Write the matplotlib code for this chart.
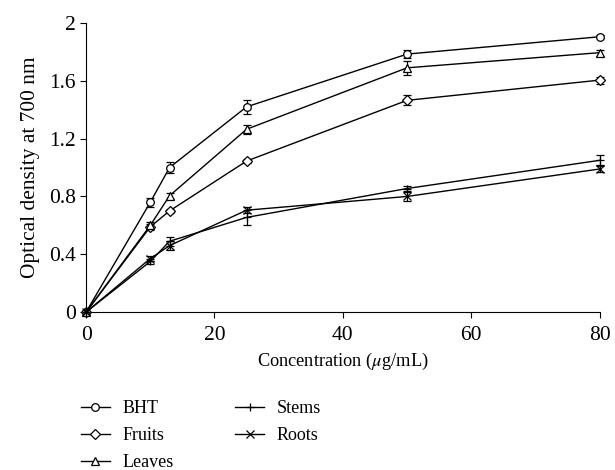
import numpy as np
import matplotlib.pyplot as plt
from matplotlib.lines import Line2D

plt.rcParams['font.family'] = 'Liberation Serif'
plt.rcParams['mathtext.fontset'] = 'stix'

# concentrations (ug/mL)
conc = [0, 10, 13, 25, 50, 80]

# optical density at 700 nm
bht = [0, 0.76, 1.00, 1.42, 1.785, 1.905]
fruits = [0, 0.59, 0.70, 1.045, 1.465, 1.605]
leaves = [0, 0.60, 0.805, 1.265, 1.69, 1.795]
stems = [0, 0.35, 0.49, 0.655, 0.855, 1.05]
roots = [0, 0.37, 0.46, 0.705, 0.80, 0.99]

# error bars
bht_err = [0, 0.03, 0.035, 0.05, 0.03, 0.01]
fruits_err = [0, 0.02, 0.015, 0.015, 0.035, 0.025]
leaves_err = [0, 0.02, 0.02, 0.03, 0.05, 0.02]
stems_err = [0, 0.02, 0.03, 0.05, 0.02, 0.035]
roots_err = [0, 0.02, 0.03, 0.02, 0.03, 0.02]

series = [
    ("BHT", bht, bht_err, "o"),
    ("Fruits", fruits, fruits_err, "D"),
    ("Leaves", leaves, leaves_err, "^"),
    ("Stems", stems, stems_err, "+"),
    ("Roots", roots, roots_err, "x"),
]

fig = plt.figure(figsize=(6.15, 4.7), dpi=100)
ax = fig.add_axes([0.14, 0.336, 0.835, 0.615])

handles = []
for name, vals, err, mk in series:
    ms = 5.5 if mk in "o^" else (5 if mk == "D" else 6)
    ax.errorbar(conc, vals, yerr=err, color="black", lw=1.0,
                marker=mk, ms=ms, mfc="white", mec="black", mew=0.9,
                capsize=3, elinewidth=0.9, capthick=0.9, clip_on=False,
                zorder=3)
    handles.append(Line2D([], [], color="black", lw=1.0, marker=mk, ms=ms,
                          mfc="white", mec="black", mew=0.9, label=name))

ax.set_xlim(0, 80)
ax.set_ylim(0, 2)
ax.set_xticks([0, 20, 40, 60, 80])
ax.set_yticks([0, 0.4, 0.8, 1.2, 1.6, 2])
ax.set_yticklabels(["0", "0.4", "0.8", "1.2", "1.6", "2"])
ax.spines["top"].set_visible(False)
ax.spines["right"].set_visible(False)
ax.tick_params(labelsize=15.5, direction="out", length=4, width=0.8)
ax.tick_params(axis="x", pad=6)
ax.set_xlabel(r"Concentration ($\mu$g/mL)", fontsize=13.2, labelpad=4)
ax.set_ylabel("Optical density at 700 nm", fontsize=15.4, labelpad=6)

fig.legend(handles=handles, loc="upper left", bbox_to_anchor=(0.117, 0.168),
           ncol=2, frameon=False, fontsize=13, handlelength=1.6,
           handletextpad=0.7, labelspacing=0.55, columnspacing=3.4,
           borderpad=0)

fig.savefig("out.png", dpi=100)
